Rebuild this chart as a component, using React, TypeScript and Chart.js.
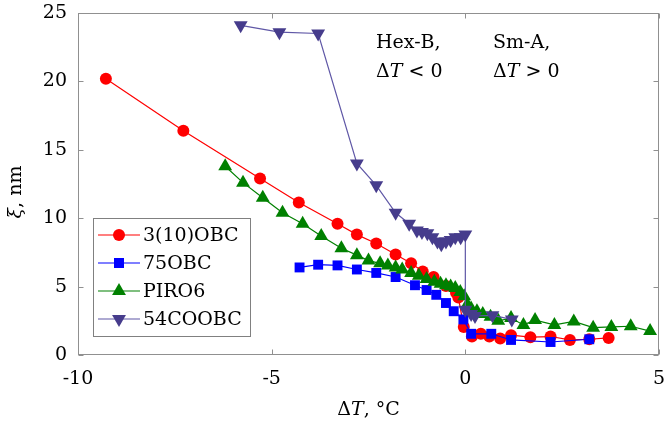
import React, { useEffect, useRef } from 'react';
import { Chart, registerables } from 'chart.js';

Chart.register(...registerables);

// ---- data ----
const obc310X = [-9.28, -7.28, -5.3, -4.3, -3.3, -2.8, -2.3, -1.8, -1.4, -1.1, -0.82, -0.5, -0.24, -0.18, -0.04, 0.17, 0.4, 0.62, 0.9, 1.18, 1.68, 2.2, 2.7, 3.2, 3.7];
const obc310Y = [20.2, 16.4, 12.9, 11.15, 9.6, 8.8, 8.15, 7.35, 6.7, 6.1, 5.7, 5.05, 4.55, 4.2, 2.05, 1.35, 1.55, 1.35, 1.2, 1.45, 1.3, 1.35, 1.1, 1.15, 1.25];

const obc75X = [-4.28, -3.8, -3.3, -2.8, -2.3, -1.8, -1.3, -1.0, -0.75, -0.5, -0.3, -0.05, 0.15, 0.67, 1.18, 2.2, 3.2];
const obc75Y = [6.4, 6.6, 6.55, 6.25, 6.0, 5.7, 5.1, 4.75, 4.4, 3.8, 3.2, 2.6, 1.55, 1.55, 1.1, 0.95, 1.15];

const piro6X = [-6.2, -5.74, -5.23, -4.72, -4.2, -3.72, -3.2, -2.8, -2.5, -2.2, -2.0, -1.8, -1.63, -1.4, -1.2, -1.0, -0.8, -0.64, -0.5, -0.38, -0.26, -0.13, -0.03, 0.05, 0.15, 0.3, 0.45, 0.65, 0.85, 1.18, 1.5, 1.8, 2.3, 2.8, 3.3, 3.77, 4.27, 4.77];
const piro6Y = [13.8, 12.6, 11.5, 10.4, 9.6, 8.7, 7.8, 7.3, 6.9, 6.7, 6.55, 6.4, 6.25, 6.0, 5.8, 5.55, 5.35, 5.2, 5.1, 5.0, 4.9, 4.6, 4.3, 3.7, 3.4, 3.2, 3.0, 2.8, 2.5, 2.7, 2.2, 2.55, 2.2, 2.45, 2.0, 2.05, 2.1, 1.75];

const coobcX = [-5.8, -4.8, -3.8, -2.8, -2.3, -1.8, -1.45, -1.25, -1.12, -0.98, -0.85, -0.72, -0.62, -0.5, -0.38, -0.26, -0.12, 0.0, 0.0, 0.15, 0.25, 0.7, 1.2];
const coobcY = [24.1, 23.6, 23.5, 14.0, 12.4, 10.4, 9.6, 9.1, 9.0, 8.9, 8.6, 8.3, 8.1, 8.3, 8.4, 8.6, 8.6, 8.8, 3.3, 3.0, 2.85, 2.9, 2.6];

const seriesNames = ['3(10)OBC', '75OBC', 'PIRO6', '54COOBC'];
const xTicks = [-10, -5, 0, 5];
const yTicks = [0, 5, 10, 15, 20, 25];

const RED = '#ff0000';
const BLUE = '#0000ff';
const GREEN = '#008000';
const PURPLE = '#463c8c';
const PURPLE_LINE = '#5f57a6';

const FONT = '"DejaVu Serif", "Liberation Serif", serif';
const FS = 19;

function fnt(italic: boolean) {
  return `${italic ? 'italic ' : ''}${FS}px ${FONT}`;
}

function drawRich(ctx: CanvasRenderingContext2D, parts: { t: string; i?: boolean }[], x: number, y: number, align: 'left' | 'center') {
  let total = 0;
  const widths = parts.map((p) => {
    ctx.font = fnt(!!p.i);
    const w = ctx.measureText(p.t).width;
    total += w;
    return w;
  });
  let cx = align === 'center' ? x - total / 2 : x;
  ctx.textAlign = 'left';
  parts.forEach((p, k) => {
    ctx.font = fnt(!!p.i);
    ctx.fillText(p.t, cx, y);
    cx += widths[k];
  });
}

function drawMarker(ctx: CanvasRenderingContext2D, kind: string, x: number, y: number, color: string) {
  ctx.fillStyle = color;
  ctx.beginPath();
  if (kind === 'circle') {
    ctx.arc(x, y, 6, 0, Math.PI * 2);
  } else if (kind === 'rect') {
    ctx.rect(x - 5, y - 5, 10, 10);
  } else {
    const r = 8;
    const base = kind === 'tri' ? -Math.PI / 2 : Math.PI / 2;
    for (let k = 0; k < 3; k++) {
      const a = base + (k * 2 * Math.PI) / 3;
      const px = x + Math.cos(a) * r;
      const py = y + Math.sin(a) * r;
      if (k === 0) ctx.moveTo(px, py);
      else ctx.lineTo(px, py);
    }
    ctx.closePath();
  }
  ctx.fill();
}

const decorPlugin = {
  id: 'decor',
  afterDraw(chart: any) {
    const { ctx, chartArea: a, scales } = chart;
    const xs = scales.x;
    const ys = scales.y;
    ctx.save();
    // frame
    const L = Math.round(a.left) + 0.5;
    const R = Math.round(a.right) - 0.5;
    const T = Math.round(a.top) + 0.5;
    const B = Math.round(a.bottom) - 0.5;
    ctx.strokeStyle = '#909090';
    ctx.lineWidth = 1;
    ctx.strokeRect(L, T, R - L, B - T);
    // inner ticks
    ctx.beginPath();
    xTicks.forEach((v) => {
      const px = Math.round(xs.getPixelForValue(v)) + 0.5;
      ctx.moveTo(px, B);
      ctx.lineTo(px, B - 5);
      ctx.moveTo(px, T);
      ctx.lineTo(px, T + 5);
    });
    yTicks.forEach((v) => {
      const py = Math.round(ys.getPixelForValue(v)) + 0.5;
      ctx.moveTo(L, py);
      ctx.lineTo(L + 5, py);
      ctx.moveTo(R, py);
      ctx.lineTo(R - 5, py);
    });
    ctx.stroke();

    // annotations
    ctx.fillStyle = '#000';
    ctx.textBaseline = 'middle';
    drawRich(ctx, [{ t: 'Hex-B,' }], 376, 43, 'left');
    drawRich(ctx, [{ t: 'Δ' }, { t: 'T', i: true }, { t: ' < 0' }], 376, 72, 'left');
    drawRich(ctx, [{ t: 'Sm-A,' }], 493, 43, 'left');
    drawRich(ctx, [{ t: 'Δ' }, { t: 'T', i: true }, { t: ' > 0' }], 493, 72, 'left');

    // axis titles
    drawRich(ctx, [{ t: 'Δ' }, { t: 'T', i: true }, { t: ', °C' }], (a.left + a.right) / 2, 410, 'center');
    ctx.save();
    ctx.translate(16, 192);
    ctx.rotate(-Math.PI / 2);
    drawRich(ctx, [{ t: 'ξ', i: true }, { t: ', nm' }], 0, 0, 'center');
    ctx.restore();

    // legend
    const bx = 93.5, by = 218.5, bw = 157, bh = 118;
    ctx.fillStyle = '#fff';
    ctx.fillRect(bx, by, bw, bh);
    ctx.strokeStyle = '#808080';
    ctx.lineWidth = 1;
    ctx.strokeRect(bx, by, bw, bh);
    const rows = [
      { name: seriesNames[0], color: RED, line: RED, kind: 'circle' },
      { name: seriesNames[1], color: BLUE, line: BLUE, kind: 'rect' },
      { name: seriesNames[2], color: GREEN, line: GREEN, kind: 'tri' },
      { name: seriesNames[3], color: PURPLE, line: PURPLE_LINE, kind: 'down' },
    ];
    rows.forEach((r, k) => {
      const y = 235 + k * 28;
      ctx.strokeStyle = r.line;
      ctx.lineWidth = 1.2;
      ctx.beginPath();
      ctx.moveTo(98, y);
      ctx.lineTo(140, y);
      ctx.stroke();
      drawMarker(ctx, r.kind, 119, y, r.color);
      ctx.fillStyle = '#000';
      drawRich(ctx, [{ t: r.name }], 143, y + 1, 'left');
    });
    ctx.restore();
  },
};

function pts(xs: number[], ys: number[]) {
  return xs.map((x, i) => ({ x, y: ys[i] }));
}

export default function App() {
  const ref = useRef<HTMLCanvasElement | null>(null);

  useEffect(() => {
    if (!ref.current) return;
    const chart = new Chart(ref.current, {
      type: 'scatter',
      data: {
        datasets: [
          {
            label: seriesNames[0],
            data: pts(obc310X, obc310Y),
            showLine: true,
            borderColor: RED,
            backgroundColor: RED,
            borderWidth: 1.2,
            pointStyle: 'circle',
            pointRadius: 6,
            pointBorderWidth: 0,
            order: 4,
          },
          {
            label: seriesNames[1],
            data: pts(obc75X, obc75Y),
            showLine: true,
            borderColor: BLUE,
            backgroundColor: BLUE,
            borderWidth: 1.2,
            pointStyle: 'rect',
            pointRadius: 7,
            pointBorderWidth: 0,
            order: 3,
          },
          {
            label: seriesNames[2],
            data: pts(piro6X, piro6Y),
            showLine: true,
            borderColor: GREEN,
            backgroundColor: GREEN,
            borderWidth: 1.2,
            pointStyle: 'triangle',
            pointRadius: 8,
            pointBorderWidth: 0,
            order: 2,
          },
          {
            label: seriesNames[3],
            data: pts(coobcX, coobcY),
            showLine: true,
            borderColor: PURPLE_LINE,
            backgroundColor: PURPLE,
            pointBackgroundColor: PURPLE,
            borderWidth: 1.2,
            pointStyle: 'triangle',
            pointRotation: 180,
            pointRadius: 8,
            pointBorderWidth: 0,
            order: 1,
          },
        ],
      },
      options: {
        animation: false,
        responsive: false,
        maintainAspectRatio: false,
        layout: { padding: { top: 13, right: 5, left: 0, bottom: 0 } },
        plugins: {
          legend: { display: false },
          tooltip: { enabled: false },
        },
        scales: {
          x: {
            type: 'linear',
            min: -10,
            max: 5,
            grid: { display: false, drawTicks: false },
            border: { display: false },
            ticks: {
              stepSize: 5,
              padding: 13,
              color: '#000',
              font: { family: FONT, size: FS },
            },
            afterFit: (s: any) => {
              s.height = 75;
              s.paddingLeft = 0;
              s.paddingRight = 0;
            },
          },
          y: {
            type: 'linear',
            min: 0,
            max: 25,
            grid: { display: false, drawTicks: false },
            border: { display: false },
            ticks: {
              stepSize: 5,
              padding: 11,
              color: '#000',
              font: { family: FONT, size: FS },
            },
            afterFit: (s: any) => {
              s.width = 78;
              s.paddingTop = 0;
              s.paddingBottom = 0;
            },
          },
        },
      },
      plugins: [decorPlugin],
    });
    return () => chart.destroy();
  }, []);

  return (
    <div style={{ position: 'fixed', left: 0, top: 0, width: 667, height: 430, background: '#fff' }}>
      <canvas ref={ref} width={667} height={430} style={{ width: 667, height: 430 }} />
    </div>
  );
}
